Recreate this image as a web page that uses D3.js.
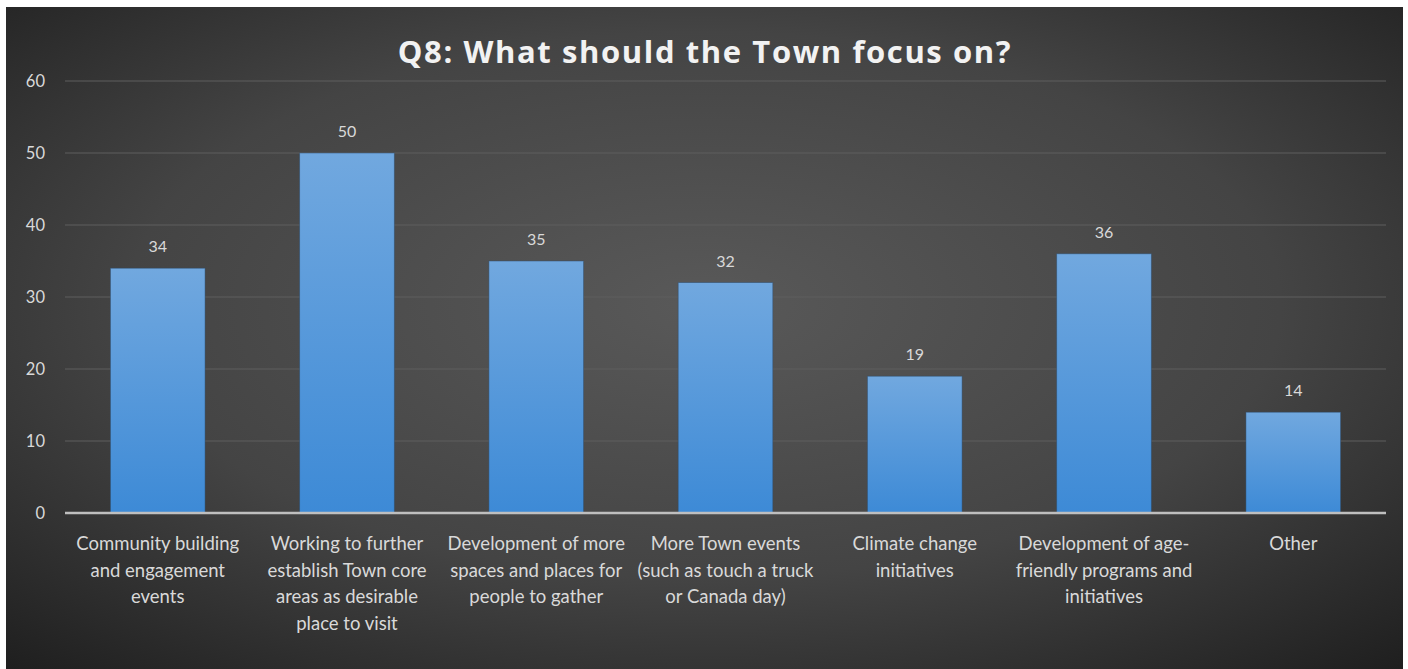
<!DOCTYPE html>
<html><head><meta charset="utf-8">
<script src="https://cdn.jsdelivr.net/npm/d3@7"></script>
<style>html,body{margin:0;padding:0;background:#fff;}svg{display:block;}</style>
</head><body>
<svg id="chart" width="1408" height="669"></svg>
<script>
const categories = [
  ["Community building", "and engagement", "events"],
  ["Working to further", "establish Town core", "areas as desirable", "place to visit"],
  ["Development of more", "spaces and places for", "people to gather"],
  ["More Town events", "(such as touch a truck", "or Canada day)"],
  ["Climate change", "initiatives"],
  ["Development of age-", "friendly programs and", "initiatives"],
  ["Other"]
];
const values = [34, 50, 35, 32, 19, 36, 14];
const yTicks = [0, 10, 20, 30, 40, 50, 60];
const title = "Q8: What should the Town focus on?";

const svg = d3.select("#chart");
const defs = svg.append("defs");
const bg = defs.append("radialGradient").attr("id","bg").attr("cx","50%").attr("cy","45%").attr("r","75%");
bg.append("stop").attr("offset","0%").attr("stop-color","#595959");
bg.append("stop").attr("offset","55%").attr("stop-color","#444");
bg.append("stop").attr("offset","100%").attr("stop-color","#1e1e1e");
const bar = defs.append("linearGradient").attr("id","bar").attr("x1",0).attr("y1",0).attr("x2",0).attr("y2",1);
bar.append("stop").attr("offset","0%").attr("stop-color","#71a8df");
bar.append("stop").attr("offset","100%").attr("stop-color","#3d8ad6");

svg.append("rect").attr("x",6).attr("y",7).attr("width",1397).attr("height",662).attr("fill","url(#bg)");

const margin = {left:65, right:1386, top:81, bottom:513};
const x = d3.scaleBand().domain(d3.range(categories.length)).range([margin.left, margin.right]).paddingInner(0.5).paddingOuter(0.24);
const y = d3.scaleLinear().domain([0,60]).range([margin.bottom, margin.top]);

// gridlines
svg.append("g").selectAll("line").data(yTicks.filter(d=>d>0)).join("line")
  .attr("x1",margin.left).attr("x2",margin.right)
  .attr("y1",d=>y(d)).attr("y2",d=>y(d))
  .attr("stroke","#5e5e5e").attr("stroke-width",1.2);

// y axis labels
const yAxis = d3.axisLeft(y).tickValues(yTicks).tickSize(0).tickPadding(0);
const ya = svg.append("g").attr("transform",`translate(${margin.left-20},0)`).call(yAxis);
ya.select(".domain").remove();
ya.selectAll("text").attr("fill","#d9d9d9").attr("font-family","Lato, 'Open Sans', sans-serif").attr("font-size",16.5).attr("text-anchor","end");

// bars
svg.append("g").selectAll("rect").data(values).join("rect")
  .attr("x",(d,i)=>x(i)).attr("width",x.bandwidth())
  .attr("y",d=>y(d)).attr("height",d=>y(0)-y(d))
  .attr("fill","url(#bar)")
  .attr("stroke","#2f4f6f").attr("stroke-width",0.8).attr("stroke-opacity",0.6);

// value labels
svg.append("g").selectAll("text").data(values).join("text")
  .attr("x",(d,i)=>x(i)+x.bandwidth()/2).attr("y",d=>y(d)-16)
  .attr("text-anchor","middle").attr("fill","#d9d9d9")
  .attr("font-family","Lato, 'Open Sans', sans-serif").attr("font-size",16)
  .text(d=>d);

// x axis line
svg.append("line").attr("x1",margin.left).attr("x2",margin.right)
  .attr("y1",y(0)).attr("y2",y(0)).attr("stroke","#bfbfbf").attr("stroke-width",2.5);

// category labels
const cl = svg.append("g").selectAll("text").data(categories).join("text")
  .attr("text-anchor","middle").attr("fill","#d9d9d9")
  .attr("font-family","Lato, 'Open Sans', sans-serif").attr("font-size",18.5);
cl.each(function(lines,i){
  const t = d3.select(this);
  lines.forEach((l,j)=>{
    t.append("tspan").attr("x",x(i)+x.bandwidth()/2).attr("y",550+j*26.5).text(l);
  });
});

// title
svg.append("text").attr("x",705).attr("y",63).attr("text-anchor","middle")
  .attr("fill","#f2f2f2").attr("font-family","'Open Sans', sans-serif").attr("font-weight","bold")
  .attr("font-size",31).attr("letter-spacing",1.6).text(title);
</script>
</body></html>
